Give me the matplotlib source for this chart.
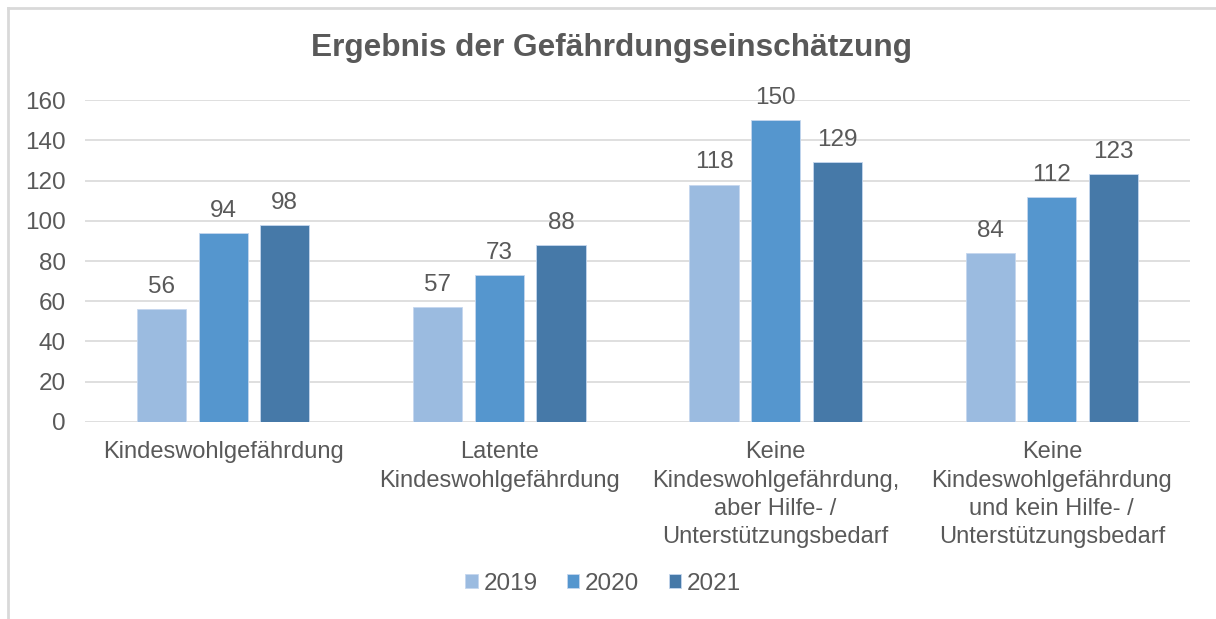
import matplotlib
matplotlib.use('Agg')
import matplotlib.pyplot as plt
from matplotlib.lines import Line2D
import numpy as np

plt.rcParams['font.family'] = ['Liberation Sans', 'DejaVu Sans']

categories = ['Kindeswohlgefährdung',
              'Latente\nKindeswohlgefährdung',
              'Keine\nKindeswohlgefährdung,\naber Hilfe- /\nUnterstützungsbedarf',
              'Keine\nKindeswohlgefährdung\nund kein Hilfe- /\nUnterstützungsbedarf']
years = ['2019', '2020', '2021']
v2019 = [56, 57, 118, 84]
v2020 = [94, 73, 150, 112]
v2021 = [98, 88, 129, 123]
colors = ['#9BBBE0', '#5596CE', '#4679A8']
yticks = [0, 20, 40, 60, 80, 100, 120, 140, 160]

txt = '#595959'
fig = plt.figure(figsize=(12.16, 6.19), dpi=100)
ax = fig.add_axes([0.0699, 0.3183, 0.9087, 0.5201])

x = np.arange(len(categories))
w = 0.178
step = 0.223
for i, (vals, yr) in enumerate(zip([v2019, v2020, v2021], years)):
    bars = ax.bar(x + (i - 1) * step, vals, w, color=colors[i], label=yr,
                  edgecolor='#C5D7EE', linewidth=0.6, zorder=3)
    for b, v in zip(bars, vals):
        ax.annotate(str(v), (b.get_x() + b.get_width() / 2, v),
                    xytext=(0, 8), textcoords='offset points',
                    ha='center', va='bottom', fontsize=17.5, color=txt)

ax.set_xlim(-0.5, len(categories) - 0.5)
ax.set_ylim(0, 160)
ax.set_yticks(yticks)
ax.set_xticks(x)
ax.set_xticklabels(categories, fontsize=17, color=txt, linespacing=1.36)
ax.tick_params(axis='y', labelsize=17.5, labelcolor=txt, length=0, pad=14)
ax.tick_params(axis='x', length=0, pad=14)
ax.grid(axis='y', color='#D9D9D9', linewidth=1.2, zorder=0)
ax.set_axisbelow(True)
for s in ax.spines.values():
    s.set_visible(False)

fig.text(0.503, 0.922, 'Ergebnis der Gefährdungseinschätzung', ha='center',
         va='center', fontsize=22.8, fontweight='bold', color=txt)

fig.legend(loc='center', bbox_to_anchor=(0.496, 0.057), ncol=3, frameon=False,
           fontsize=17.5, labelcolor=txt, handlelength=0.5, handleheight=0.5,
           handletextpad=0.25, columnspacing=1.2)

# outer frame (top and left)
fig.add_artist(Line2D([8 / 1216, 1], [1 - 8 / 619, 1 - 8 / 619],
                      transform=fig.transFigure, color='#D9D9D9', linewidth=2))
fig.add_artist(Line2D([8 / 1216, 8 / 1216], [0, 1 - 8 / 619],
                      transform=fig.transFigure, color='#D9D9D9', linewidth=2))

plt.savefig('out.png', dpi=100)
